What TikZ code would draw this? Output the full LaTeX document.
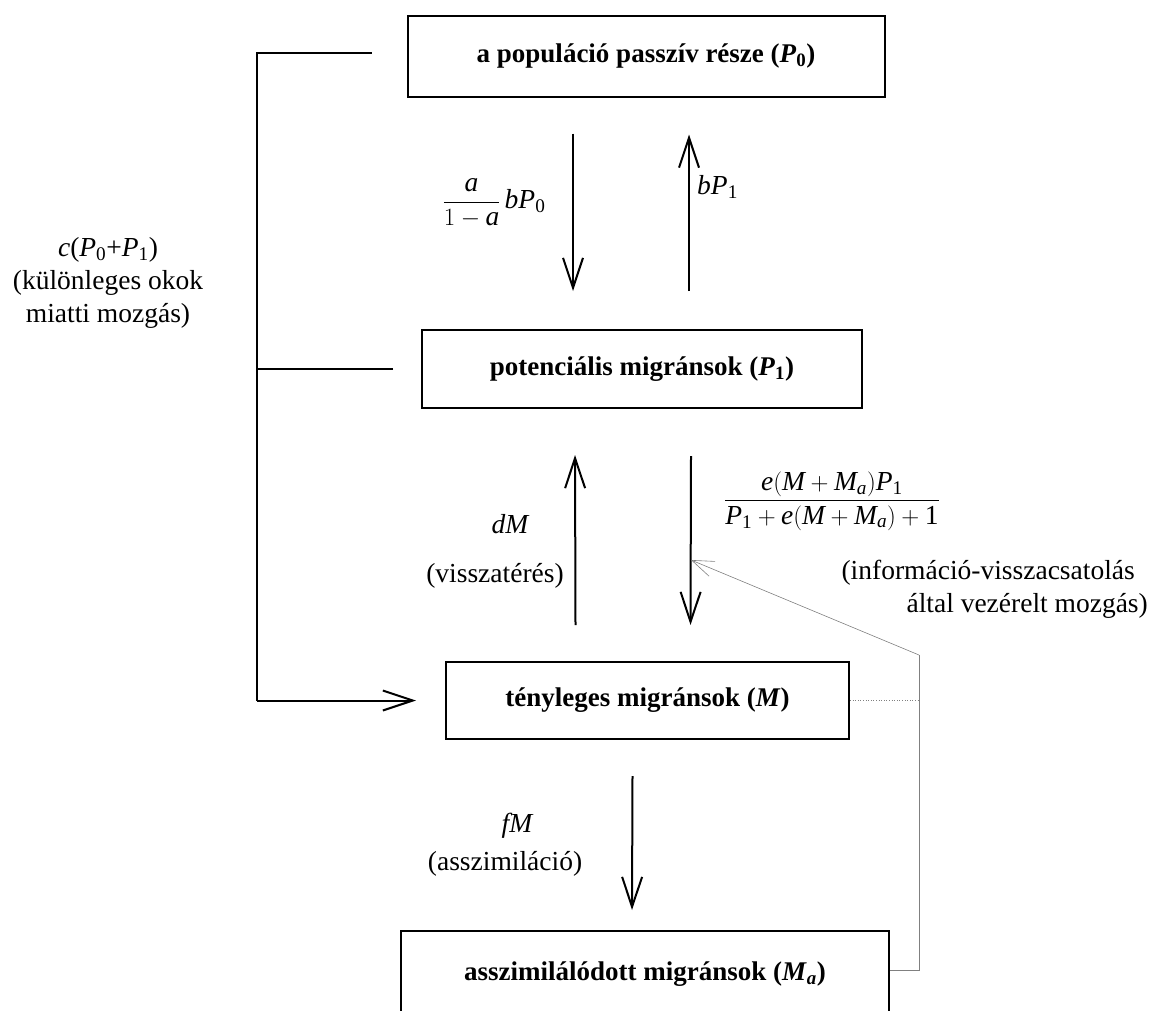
\documentclass[tikz,border=0pt]{standalone}
\usepackage{amsmath}
\usepackage{fontspec}
\setmainfont{Liberation Serif}
\usetikzlibrary{arrows.meta,calc,positioning}

\begin{document}
\begin{tikzpicture}[
    x=1pt, y=-1pt,
    box/.style={draw, line width=2pt, inner sep=0pt, font=\fontsize{27}{32}\selectfont\bfseries},
    flow/.style={-{Straight Barb[length=30pt,width=20pt,line width=2pt]}, line width=2pt},
    link/.style={line width=2pt},
    fb/.style={line width=0.6pt, gray},
    lbl/.style={font=\fontsize{27.5}{33}\selectfont, align=center, inner sep=0pt}
]
    \path[use as bounding box] (0,0) rectangle (1150,1010);
    \clip (0,0) rectangle (1150,1010);

    % Boxes
    \node[box, minimum width=477pt, minimum height=81pt] (p0) at (646,56)
        {a populáció passzív része (\textit{P}\textsubscript{0})};
    \node[box, minimum width=440pt, minimum height=78pt] (p1) at (642,369)
        {potenciális migránsok (\textit{P}\textsubscript{1})};
    \node[box, minimum width=403pt, minimum height=77pt] (m) at (647.5,700.5)
        {tényleges migránsok (\textit{M})};
    \node[box, minimum width=488pt, minimum height=86pt] (ma) at (645,974)
        {asszimilálódott migránsok (\textit{M}\textsubscript{\textit{a}})};

    % P0 <-> P1
    \draw[flow] ($(p0.south)+(-73,36)$) -- ($(p1.north)+(-69,-38)$);
    \draw[flow] ($(p1.north)+(47,-38)$) -- ($(p0.south)+(43,37)$);
    \node[lbl] (l1) at (494,203) {$\dfrac{\textit{a}}{1-\textit{a}}\,\textit{bP}_{\text{0}}$};
    \node[lbl, anchor=west] (l2) at (697,187) {$\textit{bP}_{\text{1}}$};

    % P1 <-> M
    \draw[flow] ($(m.north)+(-72,-36)$) -- ($(p1.south)+(-67,46)$);
    \draw[flow] ($(p1.south)+(49,47)$) coordinate (d2) -- ($(m.north)+(43,-36)$);
    \node[lbl] (l3) at (510,524) {$\textit{dM}$};
    \node[lbl] (l4) at (495,576) {(visszatérés)};
    \node[lbl] (l5) at (832,501)
        {$\dfrac{\textit{e}(\textit{M}+\textit{M}_{\textit{a}})\textit{P}_{\text{1}}}{\textit{P}_{\text{1}}+\textit{e}(\textit{M}+\textit{M}_{\textit{a}})+\text{1}}$};
    \node[lbl, align=right, anchor=east] (l6) at (1148,589)
        {(információ-visszacsatolás\hspace*{13pt}\\által vezérelt mozgás)};

    % M -> Ma
    \draw[flow] ($(m.south)+(-15,36)$) -- ($(ma.north)+(-13,-20)$);
    \node[lbl] (l7) at (517,826) {$\textit{fM}$};
    \node[lbl] (l8) at (505,864) {(asszimiláció)};

    % special causes
    \coordinate (bus) at (257,0);
    \draw[link] ($(p0.west)+(-35,-3)$) -- (bus |- {$(p0.west)+(0,-3)$}) -- (bus |- m.west);
    \draw[flow] (bus |- m.west) -- ($(m.west)+(-29,0)$);
    \draw[link] ($(p1.west)+(-28,0)$) -- (bus |- p1.west);
    \node[lbl] (l9) at (108,283)
        {\textit{c}(\textit{P}\textsubscript{0}+\textit{P}\textsubscript{1})\\(különleges okok\\miatti mozgás)};

    % information feedback
    \coordinate (fbx) at (919,655);
    \draw[fb, dotted] (m.east) -- (m.east -| fbx);
    \draw[fb] ($(ma.east)+(0,-4)$) coordinate (mae) -- (mae -| fbx) -- (fbx);
    \draw[fb, -{Straight Barb[length=22pt,width=16pt]}] (fbx) -- ($(d2)+(0,104)$);
\end{tikzpicture}
\end{document}
